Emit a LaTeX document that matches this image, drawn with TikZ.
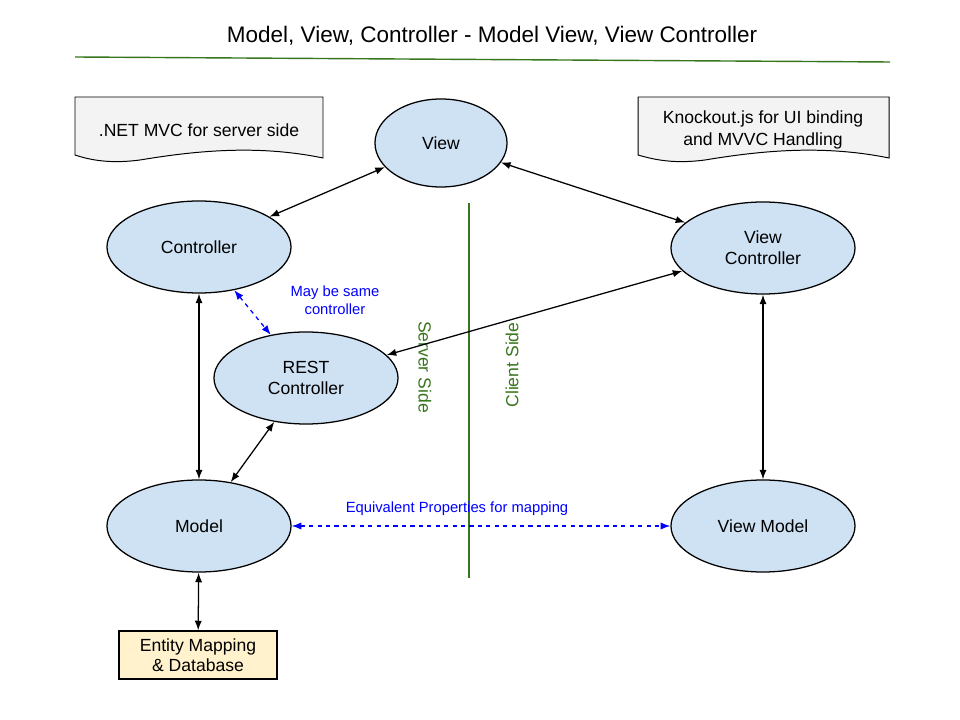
\documentclass[tikz,border=0pt]{standalone}
\usepackage{fontspec}
\setmainfont{Liberation Sans}
\usetikzlibrary{shapes.geometric,arrows.meta}
\definecolor{nodeblue}{HTML}{CFE2F3}
\definecolor{notegray}{HTML}{F3F3F3}
\definecolor{dbyellow}{HTML}{FFF2CC}
\definecolor{sidegreen}{HTML}{38761D}
\tikzset{
  ell/.style={ellipse, draw=black, line width=0.9pt, fill=nodeblue, minimum width=4.6cm, minimum height=2.3cm, align=center, font=\fontsize{12.5}{15}\selectfont},
  link/.style={line width=0.9pt, {Latex[length=2.4mm,width=1.8mm]}-{Latex[length=2.4mm,width=1.8mm]}},
  eqlink/.style={link, dashed, draw=blue, {Latex[length=2.4mm,width=1.8mm]}-{Latex[length=2.4mm,width=1.8mm]}},
  bluetext/.style={text=blue, font=\fontsize{10.5}{12.5}\selectfont, align=center},
  sidetext/.style={text=sidegreen, font=\fontsize{12.5}{15}\selectfont},
  note/.style={draw=black, line width=0.7pt, fill=notegray}
}
\begin{document}
\begin{tikzpicture}[x=0.025cm,y=-0.025cm]
\useasboundingbox (0,0) rectangle (960,720);

\node[font=\fontsize{16}{19}\selectfont] (title) at (492,36) {Model, View, Controller - Model View, View Controller};
\draw[sidegreen, line width=1pt] (75,57) -- (890,62);

% notes
\draw[note] (75,97) -- (323,97) -- (323,158) .. controls (260,145) and (200,150) .. (140,160) .. controls (110,164) and (90,160) .. (75,155) -- cycle;
\node[font=\fontsize{12.5}{15}\selectfont] (servernote) at (199,130) {.NET MVC for server side};
\draw[note] (638,97) -- (889,97) -- (889,158) .. controls (825,145) and (765,150) .. (705,160) .. controls (675,164) and (655,160) .. (638,155) -- cycle;
\node[font=\fontsize{12.5}{15}\selectfont, align=center] (clientnote) at (763,130) {Knockout.js for UI binding\\and MVVC Handling};

% nodes
\node[ell, minimum width=3.3cm, minimum height=2.2cm] (view) at (441,143) {View};
\node[ell] (ctrl) at (199,247) {Controller};
\node[ell] (vctrl) at (763,248) {View\\Controller};
\node[ell] (rest) at (306,378) {REST\\Controller};
\node[ell] (model) at (199,526) {Model};
\node[ell] (vmodel) at (763,526) {View Model};
\node[draw=black, line width=0.9pt, fill=dbyellow, minimum width=3.95cm, minimum height=1.2cm, align=center, font=\fontsize{12.5}{14.5}\selectfont] (db) at (198,655) {Entity Mapping\\\& Database};

% divider
\draw[sidegreen, line width=1pt] (469,203) -- (469,578);
\node[sidetext, rotate=-90] (server) at (425,367) {Server Side};
\node[sidetext, rotate=90] (client) at (512,365) {Client Side};

% connectors
\draw[link] (view) -- (ctrl);
\draw[link] (view) -- (vctrl);
\draw[link] (vctrl) -- (rest);
\draw[link] (ctrl) -- (model);
\draw[link] (rest) -- (model);
\draw[link] (vctrl) -- (vmodel);
\draw[link] (model) -- (db);
\draw[eqlink] (ctrl) -- (rest);
\draw[eqlink] (model) -- (vmodel);

\node[bluetext] (samelabel) at (335,300) {May be same\\controller};
\node[bluetext] (eqlabel) at (457,509) {Equivalent Properties for mapping};
\end{tikzpicture}
\end{document}
